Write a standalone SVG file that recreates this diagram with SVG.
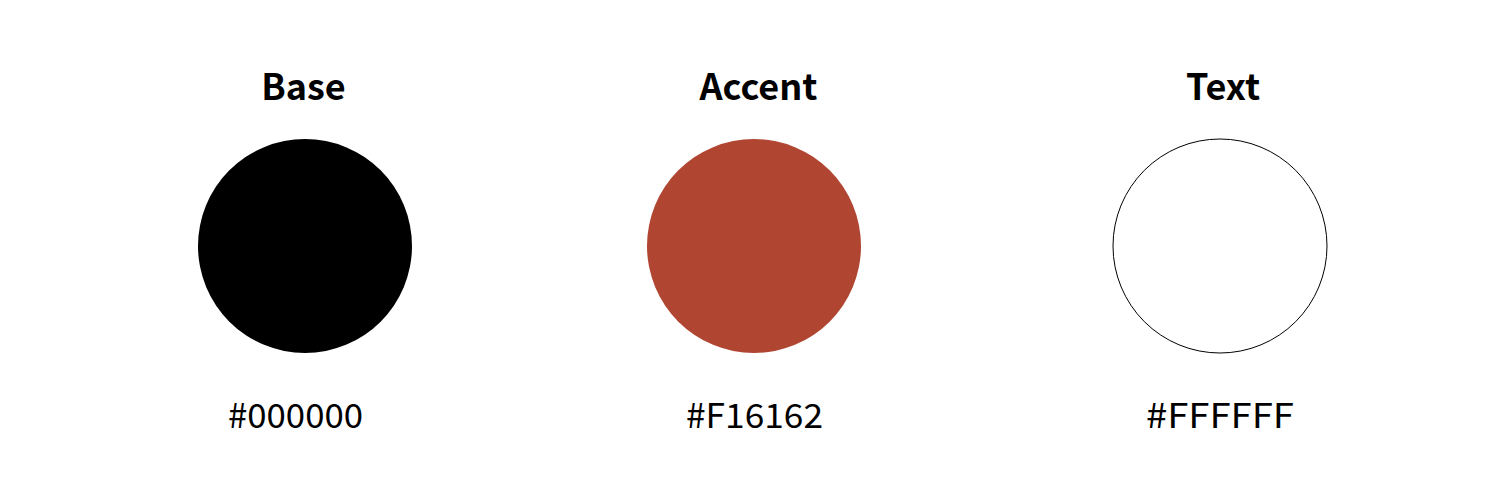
<svg xmlns="http://www.w3.org/2000/svg" width="1500" height="500" viewBox="0 0 1500 500">
<style>
.t{font-family:"Noto Sans CJK JP","Noto Sans",sans-serif;font-weight:700;font-size:36px;fill:#000;text-anchor:middle}
.h{font-family:"Noto Sans CJK JP","Noto Sans",sans-serif;font-weight:400;font-size:34px;fill:#000;text-anchor:middle}
</style>
<rect width="1500" height="500" fill="#fff"/>
<g id="base">
<text class="t" x="303.5" y="100">Base</text>
<circle cx="305" cy="246" r="107" fill="#000"/>
<text class="h" x="295.5" y="428" textLength="135" lengthAdjust="spacingAndGlyphs">#000000</text>
</g>
<g id="accent">
<text class="t" x="758.5" y="100">Accent</text>
<circle cx="754" cy="246" r="107" fill="#B04532"/>
<text class="h" x="754.5" y="428" textLength="137" lengthAdjust="spacingAndGlyphs">#F16162</text>
</g>
<g id="text">
<text class="t" x="1223" y="100">Text</text>
<circle cx="1220" cy="246" r="107" fill="#fff" stroke="#000" stroke-width="1"/>
<text class="h" x="1220" y="428" textLength="148" lengthAdjust="spacingAndGlyphs">#FFFFFF</text>
</g>
</svg>
